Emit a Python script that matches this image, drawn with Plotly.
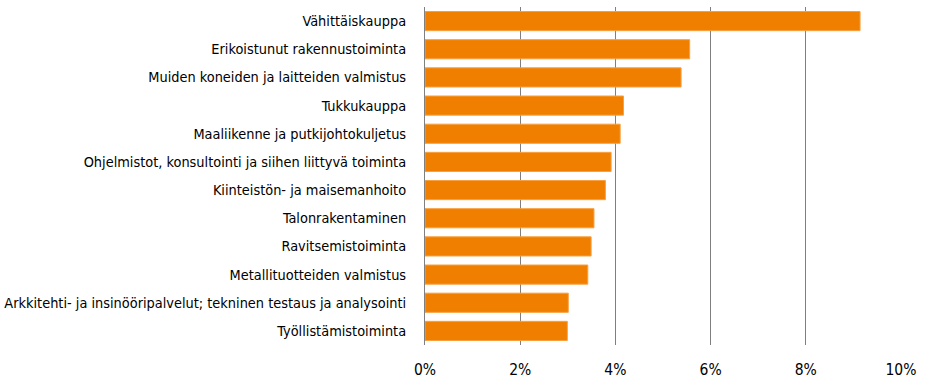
import plotly.graph_objects as go

# Toimialat ja osuudet (%), suurimmasta pienimpään
toimialat = [
    "Vähittäiskauppa",
    "Erikoistunut rakennustoiminta",
    "Muiden koneiden ja laitteiden valmistus",
    "Tukkukauppa",
    "Maaliikenne ja putkijohtokuljetus",
    "Ohjelmistot, konsultointi ja siihen liittyvä toiminta",
    "Kiinteistön- ja maisemanhoito",
    "Talonrakentaminen",
    "Ravitsemistoiminta",
    "Metallituotteiden valmistus",
    "Arkkitehti- ja insinööripalvelut; tekninen testaus ja analysointi",
    "Työllistämistoiminta",
]
osuudet = [9.14, 5.56, 5.38, 4.17, 4.10, 3.91, 3.79, 3.55, 3.49, 3.42, 3.01, 2.99]
x_ticks = [0, 2, 4, 6, 8, 10]
x_tick_labels = ["0%", "2%", "4%", "6%", "8%", "10%"]

FONT = "DejaVu Sans Condensed, Liberation Sans Narrow, sans-serif"

fig = go.Figure(
    go.Bar(
        x=osuudet,
        y=toimialat,
        orientation="h",
        marker=dict(color="#F07F00", line=dict(color="#F7A040", width=1)),
        hoverinfo="x+y",
    )
)

fig.update_layout(
    width=927,
    height=381,
    margin=dict(l=425, r=26, t=7, b=36),
    paper_bgcolor="white",
    plot_bgcolor="white",
    bargap=0.32,
    showlegend=False,
    font=dict(family=FONT, size=14.4, color="#000000"),
    xaxis=dict(
        range=[0, 10],
        tickvals=x_ticks,
        ticktext=x_tick_labels,
        showgrid=True,
        gridcolor="#7f7f7f",
        gridwidth=1,
        zeroline=False,
        showline=False,
        ticks="",
        automargin=False,
        ticklabelstandoff=13,
        tickfont=dict(family=FONT, size=15.5, color="#000000"),
    ),
    yaxis=dict(
        autorange="reversed",
        showgrid=False,
        showline=True,
        linecolor="#7f7f7f",
        linewidth=1,
        ticks="",
        automargin=False,
        ticklabelstandoff=15,
        tickfont=dict(family=FONT, size=14.4, color="#000000"),
    ),
)

fig.write_html("out.html")
